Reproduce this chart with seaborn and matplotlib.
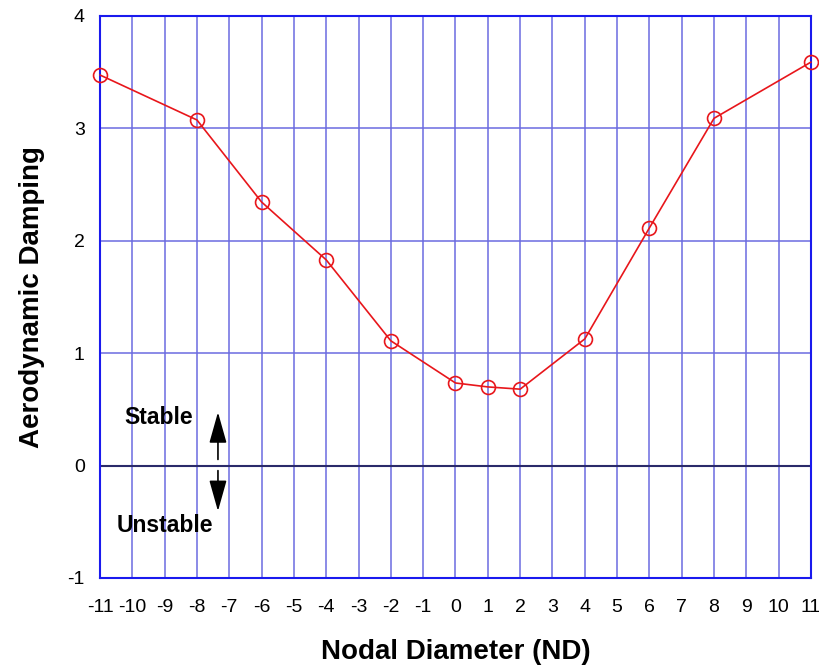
import matplotlib
matplotlib.use("Agg")
import matplotlib.pyplot as plt
import seaborn as sns
import pandas as pd

nd = [-11, -8, -6, -4, -2, 0, 1, 2, 4, 6, 8, 11]
damping = [3.475, 3.075, 2.345, 1.83, 1.11, 0.735, 0.70, 0.68, 1.127, 2.115, 3.09, 3.59]
x_ticks = list(range(-11, 12))
y_ticks = [-1, 0, 1, 2, 3, 4]

sns.set_theme(style="white")
plt.rcParams['font.family'] = ['Liberation Sans', 'DejaVu Sans']
plt.rcParams['text.color'] = 'black'
plt.rcParams['axes.labelcolor'] = 'black'
plt.rcParams['xtick.color'] = 'black'
plt.rcParams['ytick.color'] = 'black'

df = pd.DataFrame({"ND": nd, "Damping": damping})

fig = plt.figure(figsize=(8.2, 6.67), dpi=100)
ax = fig.add_axes([100/820, 1 - 578/667, 711/820, 562/667])

grid_c = "#6b6be0"
for xv in x_ticks:
    ax.axvline(xv, color=grid_c, lw=1.1, zorder=1)
for yv in y_ticks:
    ax.axhline(yv, color=grid_c, lw=1.1, zorder=1)
ax.axhline(0, color="#2a2a6a", lw=1.5, zorder=2)

sns.lineplot(data=df, x="ND", y="Damping", ax=ax, color="#e8161b", lw=1.2,
             marker="o", markersize=10, markerfacecolor="none",
             markeredgecolor="#e8161b", markeredgewidth=1.2, zorder=5, clip_on=False)

ax.set_xlim(-11, 11)
ax.set_ylim(-1, 4)
ax.set_xticks(x_ticks)
ax.set_yticks(y_ticks)
ax.set_xticklabels([str(v) for v in x_ticks], fontsize=14)
ax.set_yticklabels([str(v) for v in y_ticks], fontsize=14)
ax.tick_params(axis="both", direction="in", length=5, color="#1a1aee", width=1,
               labelcolor="black")
ax.tick_params(axis="y", pad=11)
ax.tick_params(axis="x", pad=15)
for s in ax.spines.values():
    s.set_color("#1a1aee")
    s.set_linewidth(1.5)
    s.set_visible(True)

ax.set_xlabel("Nodal Diameter (ND)", fontsize=20, fontweight="bold", labelpad=17, color="black")
ax.set_ylabel("Aerodynamic Damping", fontsize=20, fontweight="bold", labelpad=16, color="black")

ap = dict(arrowstyle="-|>,head_width=0.45,head_length=1.6", color="black", lw=1.2)
ax.annotate("", xy=(-7.35, 0.50), xytext=(-7.35, 0.03), arrowprops=ap, zorder=6)
ax.annotate("", xy=(-7.35, -0.43), xytext=(-7.35, -0.02), arrowprops=ap, zorder=6)
ax.text(-9.17, 0.43, "Stable", fontsize=16.5, fontweight="bold", ha="center", va="center", zorder=6)
ax.text(-9.0, -0.53, "Unstable", fontsize=16.5, fontweight="bold", ha="center", va="center", zorder=6)

fig.savefig("out.png", dpi=100)
